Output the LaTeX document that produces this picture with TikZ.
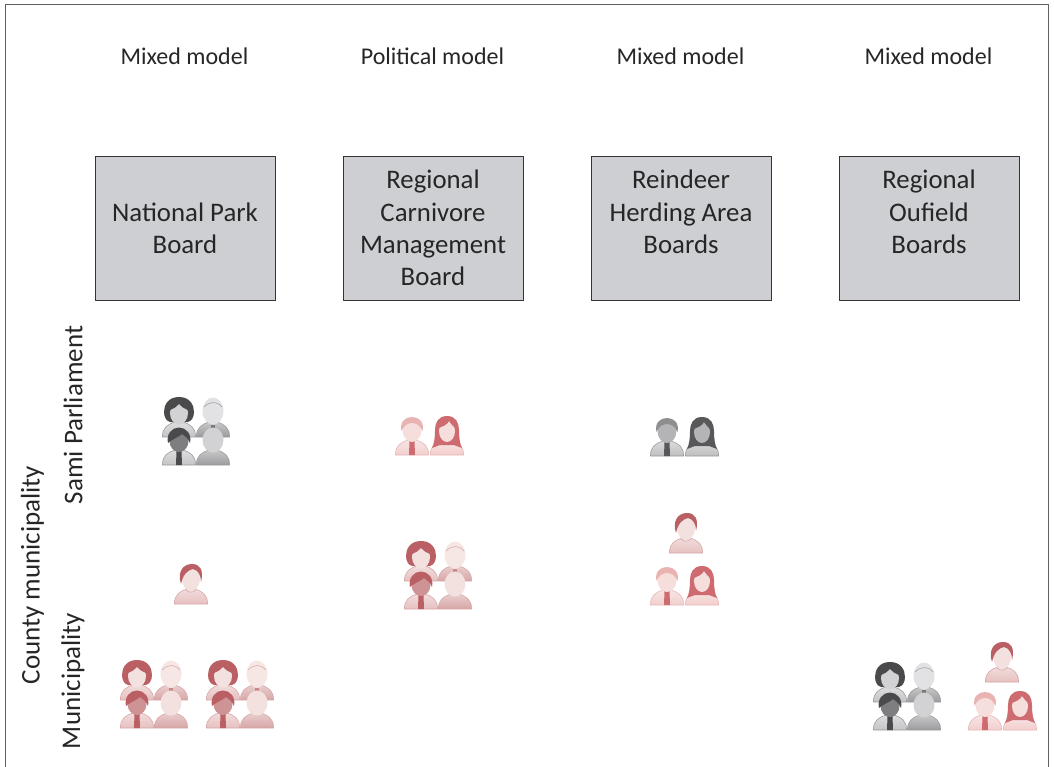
\documentclass[tikz,border=0pt]{standalone}
\usepackage{fontspec}
\setmainfont{Carlito}
\newcommand{\palette}[6]{%
  \definecolor{pdark}{HTML}{#1}\definecolor{pface}{HTML}{#2}\definecolor{pbody}{HTML}{#3}%
  \definecolor{pbodyd}{HTML}{#4}\definecolor{pskin}{HTML}{#5}\definecolor{ppale}{HTML}{#6}}
\newcommand{\palgrey}{\palette{4A4A4C}{7E7E80}{C4C4C6}{9B9B9D}{D2D2D4}{E2E2E4}}
\newcommand{\palgreypair}{\palette{58585A}{B4B4B6}{BEBEC0}{9B9B9D}{D0D0D2}{8E8E90}}
\newcommand{\palred}{\palette{BA5F63}{CE9394}{E6C0C0}{D7A6A6}{F3E1E0}{F6E6E4}}
\newcommand{\palredpale}{\palette{CE6B70}{F6DEDC}{F2CFCE}{E8B6B6}{F8E6E4}{E8B3B0}}
\tikzset{
  every picture/.append style={line join=round},
  boardbox/.style={draw=black!80,line width=0.8pt,fill=boardgrey,minimum width=180pt,minimum height=144pt,inner sep=0pt,align=center,font=\fontsize{26.8}{32.3}\selectfont,text=black!85},
  modeltext/.style={font=\fontsize{24}{28}\selectfont,text=black!85,inner sep=0pt},
  sidetext/.style={rotate=90,font=\fontsize{27}{30}\selectfont,text=black!85,inner sep=0pt},
  torso/.pic={\shadedraw[draw=pbodyd,line width=0.6pt,top color=#1!55!white,bottom color=#1] (-16.5,0) .. controls (-17,-9) and (-11,-13) .. (-4,-15) -- (4,-15) .. controls (11,-13) and (17,-9) .. (16.5,0) -- cycle;},
  pbob/.pic={
    \pic {torso=pbody};
    \fill[pdark] (0,-40) .. controls (-11,-40) and (-15,-32) .. (-15,-25) .. controls (-15,-19) and (-12,-16) .. (-9,-15) -- (9,-15) .. controls (12,-16) and (15,-19) .. (15,-25) .. controls (15,-32) and (11,-40) .. (0,-40) -- cycle;
    \fill[pskin] (0,-24) ellipse [x radius=9,y radius=11.5];
    \fill[pdark] (-9,-27) .. controls (-5,-29) and (-2,-30) .. (0,-33) .. controls (2,-30) and (5,-29) .. (9,-27) -- (9,-36) -- (-9,-36) -- cycle;
  },
  pold/.pic={
    \pic {torso=pbodyd};
    \fill[pskin] (-4,-16) -- (4,-16) -- (0,-8) -- cycle;
    \fill[pdark!70!ppale] (-2,-12) rectangle (2,-8);
    \fill[ppale] (0,-26) ellipse [x radius=10.5,y radius=13.5];
    \draw[pbodyd,line width=0.5pt] (-9,-30) .. controls (-3,-36) and (4,-36) .. (9,-30);
  },
  pman/.pic={
    \pic {torso=pbody};
    \fill[pdark] (-2.5,-14) -- (2.5,-14) -- (3,0) -- (-3,0) -- cycle;
    \fill[pface] (0,-24) ellipse [x radius=9.5,y radius=11];
    \fill[pdark] (-11,-22) .. controls (-13,-31) and (-7,-37.5) .. (0,-37.5) .. controls (7,-37.5) and (13,-31) .. (11,-22) .. controls (9,-27) and (6,-29) .. (3,-31) .. controls (0,-28) and (-5,-27) .. (-11,-22) -- cycle;
  },
  pbald/.pic={
    \pic {torso=pbodyd};
    \fill[pskin] (0,-25) ellipse [x radius=10.5,y radius=12.5];
  },
  pshort/.pic={
    \pic {torso=pbody};
    \fill[pskin] (0,-25) ellipse [x radius=9,y radius=12];
    \draw[pbodyd,line width=0.5pt] (-5,-14) .. controls (-2,-11) and (2,-11) .. (5,-14);
    \fill[pdark] (-10,-20) .. controls (-14,-32) and (-8,-40) .. (1,-40) .. controls (9,-40) and (13,-34) .. (10,-22) .. controls (10,-29) and (7,-34) .. (2,-35) .. controls (-3,-34) and (-8,-30) .. (-10,-20) -- cycle;
  },
  ptie/.pic={
    \pic {torso=pbody};
    \fill[pdark] (-2.5,-14) -- (2.5,-14) -- (3,0) -- (-3,0) -- cycle;
    \fill[pface] (0,-25) ellipse [x radius=9.5,y radius=12];
    \fill[ppale] (-10.5,-24) .. controls (-12.5,-33) and (-7,-38) .. (0,-38) .. controls (7,-38) and (12.5,-33) .. (10.5,-24) .. controls (8,-30) and (4,-32) .. (0,-32) .. controls (-4,-32) and (-8,-30) .. (-10.5,-24) -- cycle;
  },
  plong/.pic={
    \pic {torso=pbody};
    \fill[pdark] (0,-39) .. controls (-9,-39) and (-12,-32) .. (-12,-25) .. controls (-12,-17) and (-13,-11) .. (-15,-7) -- (-7,-10) -- (7,-10) -- (15,-7) .. controls (13,-11) and (12,-17) .. (12,-25) .. controls (12,-32) and (9,-39) .. (0,-39) -- cycle;
    \fill[pface] (0,-24) ellipse [x radius=8,y radius=11];
    \fill[pdark] (-8,-27) .. controls (-4,-29) and (0,-30) .. (2,-34) .. controls (4,-31) and (6,-29) .. (8,-27) -- (8,-35) -- (-8,-35) -- cycle;
  },
  pfour/.pic={
    \pic at (0,-28) {pbob};
    \pic at (34,-28) {pold};
    \pic at (0,0) {pman};
    \pic at (34,0) {pbald};
  },
  ptwo/.pic={
    \pic at (0,0) {ptie};
    \pic at (35,0) {plong};
  }
}
\definecolor{boardgrey}{HTML}{CDCFD2}
\definecolor{frameline}{HTML}{606060}
\begin{document}
\begin{tikzpicture}[x=1pt,y=-1pt]
\useasboundingbox (0,0) rectangle (1054,767);
\draw[frameline,line width=1pt] (5,767) -- (5,4.5) -- (1048,4.5) -- (1048,767);
% model labels
\node[modeltext] (m1) at (184.5,56) {Mixed model};
\node[modeltext] (m2) at (432.5,56) {Political model};
\node[modeltext] (m3) at (680.5,56) {Mixed model};
\node[modeltext] (m4) at (928.5,56) {Mixed model};
% boards
\node[boardbox] (b1) at (185,228) {National Park\\Board};
\node[boardbox] (b2) at (433,228) {Regional\\Carnivore\\Management\\Board};
\node[boardbox] (b3) at (681,228) {Reindeer\\Herding Area\\Boards\\\mbox{}};
\node[boardbox] (b4) at (929,228) {Regional\\Oufield\\Boards\\\mbox{}};
% side labels
\node[sidetext] (s1) at (73,415) {Sami Parliament};
\node[sidetext] (s2) at (32.5,575) {County municipality};
\node[sidetext] (s3) at (73,681) {Municipality};
% people
\begin{scope}\palgrey
  \pic at (179,465) {pfour};
  \pic at (890,730) {pfour};
\end{scope}
\begin{scope}\palred
  \pic at (421,609) {pfour};
  \pic at (137,728) {pfour};
  \pic at (223,728) {pfour};
  \pic at (191,604) {pshort};
  \pic at (686,553) {pshort};
  \pic at (1002,682) {pshort};
\end{scope}
\begin{scope}\palredpale
  \pic at (412,455) {ptwo};
  \pic at (667,605) {ptwo};
  \pic at (985,730) {ptwo};
\end{scope}
\begin{scope}\palgreypair
  \pic at (667,456) {ptwo};
\end{scope}
\end{tikzpicture}
\end{document}
